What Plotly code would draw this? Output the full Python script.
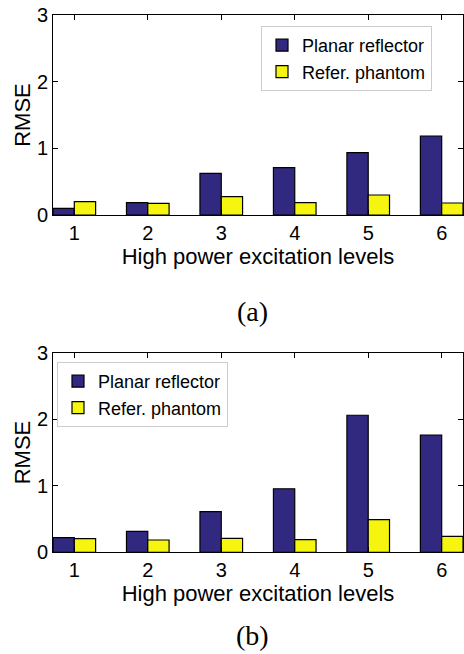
import plotly.graph_objects as go

levels = [1, 2, 3, 4, 5, 6]
planar_a = [0.10, 0.185, 0.625, 0.71, 0.935, 1.185]
phantom_a = [0.20, 0.175, 0.275, 0.185, 0.30, 0.18]
planar_b = [0.22, 0.315, 0.61, 0.955, 2.06, 1.76]
phantom_b = [0.205, 0.185, 0.21, 0.19, 0.49, 0.24]
y_ticks = [0, 1, 2, 3]
series_names = ["Planar reflector", "Refer. phantom"]
captions = ["(a)", "(b)"]

BLUE = "#31297f"
YELLOW = "#f5f510"
FONT = "Liberation Sans"

fig = go.Figure()
fig.add_trace(go.Bar(x=levels, y=planar_a, name=series_names[0], marker=dict(color=BLUE, line=dict(color="black", width=1.2)),
                     xaxis="x", yaxis="y", legend="legend"))
fig.add_trace(go.Bar(x=levels, y=phantom_a, name=series_names[1], marker=dict(color=YELLOW, line=dict(color="black", width=1.2)),
                     xaxis="x", yaxis="y", legend="legend"))
fig.add_trace(go.Bar(x=levels, y=planar_b, name=series_names[0], marker=dict(color=BLUE, line=dict(color="black", width=1.2)),
                     xaxis="x2", yaxis="y2", legend="legend2"))
fig.add_trace(go.Bar(x=levels, y=phantom_b, name=series_names[1], marker=dict(color=YELLOW, line=dict(color="black", width=1.2)),
                     xaxis="x2", yaxis="y2", legend="legend2"))

W, H = 464, 654
xdom = [53 / W, 463 / W]
ydom_a = [(H - 215) / H, (H - 15) / H]
ydom_b = [(H - 552.3) / H, (H - 352.7) / H]

common_x = dict(tickvals=levels, range=[0.71, 6.29], ticks="inside", ticklen=5, showline=True, mirror="ticks",
                linecolor="black", linewidth=1, tickcolor="black", showgrid=False, zeroline=False, automargin=False,
                tickfont=dict(family=FONT, size=20, color="black"),
                title=dict(text="High power excitation levels", font=dict(family=FONT, size=22, color="black"), standoff=2))
common_y = dict(tickvals=y_ticks, range=[0, 3], ticks="inside", ticklen=5, showline=True, mirror="ticks",
                linecolor="black", linewidth=1, tickcolor="black", showgrid=False, zeroline=False, automargin=False,
                tickfont=dict(family=FONT, size=20, color="black"),
                title=dict(text="RMSE", font=dict(family=FONT, size=22, color="black"), standoff=0))

legend_common = dict(font=dict(family=FONT, size=18, color="black"), bgcolor="white", bordercolor="#cccccc",
                     borderwidth=1, xanchor="right", yanchor="top", tracegroupgap=0, itemwidth=30)

fig.update_layout(
    width=W, height=H, margin=dict(l=0, r=0, t=0, b=0, autoexpand=False),
    plot_bgcolor="white", paper_bgcolor="white",
    barmode="group", bargap=0.42, bargroupgap=0,
    xaxis=dict(domain=xdom, anchor="y", **common_x),
    yaxis=dict(domain=ydom_a, anchor="x", **common_y),
    xaxis2=dict(domain=xdom, anchor="y2", **common_x),
    yaxis2=dict(domain=ydom_b, anchor="x2", **common_y),
    legend=dict(x=432 / W, y=(H - 26) / H, **legend_common),
    legend2=dict(x=228 / W, y=(H - 362) / H, **legend_common),
    annotations=[
        dict(text=captions[0], x=253 / W, y=(H - 311) / H, xref="paper", yref="paper", showarrow=False,
             xanchor="center", yanchor="middle",
             font=dict(family="Liberation Serif", size=28, color="black")),
        dict(text=captions[1], x=253 / W, y=(H - 635) / H, xref="paper", yref="paper", showarrow=False,
             xanchor="center", yanchor="middle",
             font=dict(family="Liberation Serif", size=28, color="black")),
    ],
)

fig.write_html("out.html")
